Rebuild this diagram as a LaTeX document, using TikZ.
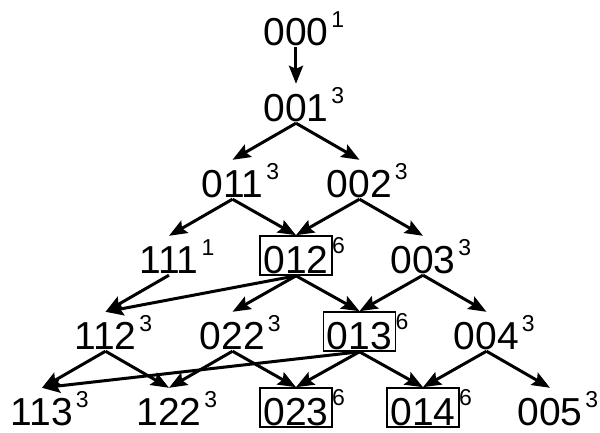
\documentclass[tikz,border=0pt]{standalone}
\usepackage{fontspec}
\setmainfont{Liberation Sans}
\usetikzlibrary{arrows.meta}
\begin{document}
\begin{tikzpicture}[x=63.5pt,y=-76pt]
    \tikzset{% This is the style settings for nodes
    st/.style={anchor=base, inner xsep=3.5pt, inner ysep=2pt, text height=35pt, text depth=0pt, font=\fontsize{39}{45}\selectfont},
    bx/.style={st, draw, line width=1.6pt},
    sup/.style={anchor=base west, inner sep=0pt, xshift=-1pt, font=\fontsize{23}{27}\selectfont},
    bsup/.style={sup, yshift=2.5pt},
    arr/.style={-{Stealth[length=18pt,width=14pt,inset=3pt]}, line width=3pt},
    }
    \useasboundingbox (-296pt,45pt) rectangle (304pt,-387pt);
    % Nodes
    \node[st, label={[sup]east:1}] (n000) at (0,0) {000};
    \node[st, label={[sup]east:3}] (n001) at (0,1) {001};
    \node[st, label={[sup]east:3}] (n011) at (-1,2) {011};
    \node[st, label={[sup]east:3}] (n002) at (1,2) {002};
    \node[st, label={[sup]east:1}] (n111) at (-2,3) {111};
    \node[bx, label={[bsup]east:6}] (n012) at (0,3) {012};
    \node[st, label={[sup]east:3}] (n003) at (2,3) {003};
    \node[st, label={[sup]east:3}] (n112) at (-3,4) {112};
    \node[st, label={[sup]east:3}] (n022) at (-1,4) {022};
    \node[bx, label={[bsup]east:6}] (n013) at (1,4) {013};
    \node[st, label={[sup]east:3}] (n004) at (3,4) {004};
    \node[st, label={[sup]east:3}] (n113) at (-4,5) {113};
    \node[st, label={[sup]east:3}] (n122) at (-2,5) {122};
    \node[bx, label={[bsup]east:6}] (n023) at (0,5) {023};
    \node[bx, label={[bsup]east:6}] (n014) at (2,5) {014};
    \node[st, label={[sup]east:3}] (n005) at (4,5) {005};

    %Edges
    \path[arr] (n000.south) edge (n001.north);
    \path[arr] (n001.south) edge (n011.north);
    \path[arr] (n001.south) edge (n002.north);
    \path[arr] (n011.south) edge (n111.north);
    \path[arr] (n011.south) edge (n012.north);
    \path[arr] (n002.south) edge (n012.north);
    \path[arr] (n002.south) edge (n003.north);
    \path[arr] (n111.south) edge (n112.north);
    \path[arr] (n012.south) edge (n112.north);
    \path[arr] (n012.south) edge (n022.north);
    \path[arr] (n012.south) edge (n013.north);
    \path[arr] (n003.south) edge (n013.north);
    \path[arr] (n003.south) edge (n004.north);
    \path[arr] (n112.south) edge (n113.north);
    \path[arr] (n112.south) edge (n122.north);
    \path[arr] (n022.south) edge (n122.north);
    \path[arr] (n022.south) edge (n023.north);
    \path[arr] (n013.south) edge (n113.north);
    \path[arr] (n013.south) edge (n023.north);
    \path[arr] (n013.south) edge (n014.north);
    \path[arr] (n004.south) edge (n014.north);
    \path[arr] (n004.south) edge (n005.north);

\end{tikzpicture}
\end{document}
